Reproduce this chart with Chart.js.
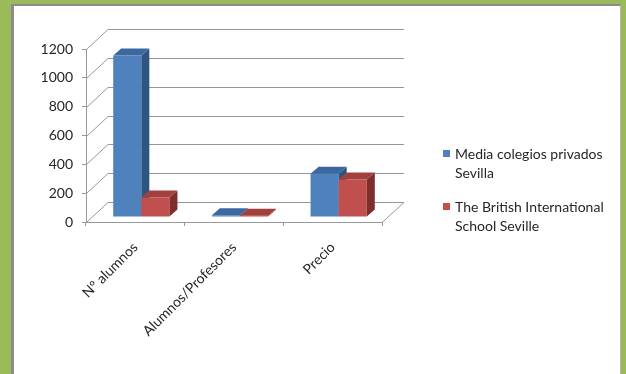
<!DOCTYPE html>
<html>
<head>
<meta charset="utf-8">
<script src="https://cdn.jsdelivr.net/npm/chart.js@4.4.1/dist/chart.umd.min.js"></script>
<style>
  html, body { margin: 0; padding: 0; width: 626px; height: 374px; overflow: hidden; background: #9bbb59; }
  #panel {
    position: absolute; left: 11px; top: 4px; width: 606px; height: 400px;
    background: #fff;
    border-left: 3px solid #8c8c8c;
    border-top: 2px solid #8c8c8c;
    border-right: 1px solid #b4b4b4;
  }
  #chart { position: absolute; left: 0; top: 0; }
</style>
</head>
<body>
<div id="panel"></div>
<canvas id="chart" width="626" height="374"></canvas>
<script>
// ===============================
// Data
// ===============================
const categories = ["Nº alumnos", "Alumnos/Profesores", "Precio"];
const mediaSevilla = [1120, 12, 300];
const britishSchool = [135, 9, 260];
const seriesNames = [
  ["Media colegios privados", "Sevilla"],
  ["The British International", "School Seville"],
];
const yMin = 0;
const yMax = 1200;
const yStep = 200;

// ===============================
// Look
// ===============================
const FONT = "Lato, 'Open Sans', sans-serif";
const TEXT = "#262626";
const GRID = "#979797";

const palette = [
  { front: "#4f81bd", top: "#3c68a0", side: "#2e5481" },
  { front: "#c0504d", top: "#a3403d", side: "#7e2f2d" },
];

// depth of the floor / back wall, and where the bars sit inside it
const wall = { dx: 22, dy: -20 };
const barPlane = { dx: 6, dy: -5 };
const barDepth = { dx: 8, dy: -7 };

// ===============================
// 3D box plugin
// ===============================
function line(ctx, x0, y0, x1, y1) {
  ctx.beginPath();
  ctx.moveTo(x0, y0);
  ctx.lineTo(x1, y1);
  ctx.stroke();
}

function drawBar(ctx, x0, x1, yTop, yBase, c) {
  const w = x1 - x0;

  ctx.fillStyle = c.front;
  ctx.fillRect(x0, yTop, w, yBase - yTop);

  ctx.fillStyle = c.side;
  ctx.beginPath();
  ctx.moveTo(x1, yBase);
  ctx.lineTo(x1, yTop);
  ctx.lineTo(x1 + barDepth.dx, yTop + barDepth.dy);
  ctx.lineTo(x1 + barDepth.dx, yBase + barDepth.dy);
  ctx.closePath();
  ctx.fill();

  ctx.fillStyle = c.top;
  ctx.beginPath();
  ctx.moveTo(x0, yTop);
  ctx.lineTo(x1, yTop);
  ctx.lineTo(x1 + barDepth.dx, yTop + barDepth.dy);
  ctx.lineTo(x0 + barDepth.dx, yTop + barDepth.dy);
  ctx.closePath();
  ctx.fill();
}

const box3d = {
  id: "box3d",
  beforeDatasetsDraw(chart) {
    const { ctx, chartArea, scales } = chart;
    const y = scales.y;
    const left = chartArea.left;
    const right = chartArea.right;
    const bottom = y.getPixelForValue(0);

    ctx.save();
    ctx.strokeStyle = GRID;
    ctx.lineWidth = 1;

    // back wall gridlines + side wall diagonals
    y.ticks.forEach((t) => {
      const py = Math.round(y.getPixelForValue(t.value)) + 0.5;
      line(ctx, left + 0.5, py, left + wall.dx, py + wall.dy);
      line(ctx, left + wall.dx, py + wall.dy, right + wall.dx, py + wall.dy);
    });

    // floor right edge
    line(ctx, right, Math.round(bottom) + 0.5, right + wall.dx, Math.round(bottom) + 0.5 + wall.dy);

    // bars
    chart.data.datasets.forEach((ds, di) => {
      const meta = chart.getDatasetMeta(di);
      meta.data.forEach((bar) => {
        const x0 = bar.x - bar.width / 2 + barPlane.dx;
        const x1 = bar.x + bar.width / 2 + barPlane.dx;
        drawBar(ctx, x0, x1, bar.y + barPlane.dy, bar.base + barPlane.dy, palette[di]);
      });
    });

    ctx.restore();
    return false;
  },
  afterDraw(chart) {
    const { ctx } = chart;
    ctx.save();
    ctx.font = "14px " + FONT;
    ctx.fillStyle = TEXT;
    ctx.textBaseline = "middle";
    const startY = 154;
    const entryGap = 53;
    const lineGap = 19;
    seriesNames.forEach((lines, i) => {
      const top = startY + i * entryGap;
      ctx.fillStyle = palette[i].front;
      ctx.fillRect(443, top - 4, 7, 7);
      ctx.fillStyle = TEXT;
      lines.forEach((txt, k) => ctx.fillText(txt, 455, top + k * lineGap));
    });
    ctx.restore();
  },
};

// ===============================
// Chart
// ===============================
const ctx = document.getElementById("chart").getContext("2d");

new Chart(ctx, {
  type: "bar",
  data: {
    labels: categories,
    datasets: [
      { label: seriesNames[0].join(" "), data: mediaSevilla, backgroundColor: palette[0].front },
      { label: seriesNames[1].join(" "), data: britishSchool, backgroundColor: palette[1].front },
    ],
  },
  options: {
    responsive: false,
    animation: false,
    devicePixelRatio: 1,
    categoryPercentage: 0.57,
    barPercentage: 1.0,
    layout: { padding: { left: 0, top: 49, right: 244, bottom: 0 } },
    plugins: {
      legend: { display: false },
      tooltip: { enabled: false },
    },
    scales: {
      x: {
        afterFit: (s) => { s.height = 152; },
        grid: { display: true, drawOnChartArea: false, drawTicks: true, tickLength: 4, color: GRID, offset: true },
        border: { display: true, color: GRID },
        ticks: {
          minRotation: 45,
          maxRotation: 45,
          padding: 13,
          color: TEXT,
          font: { family: FONT, size: 14 },
        },
      },
      y: {
        min: yMin,
        max: yMax,
        afterFit: (s) => { s.width = 86; },
        grid: { display: true, drawOnChartArea: false, drawTicks: true, tickLength: 4, color: GRID },
        border: { display: true, color: GRID },
        ticks: {
          stepSize: yStep,
          padding: 9,
          color: TEXT,
          font: { family: FONT, size: 14 },
          callback: (v) => String(v),
        },
      },
    },
  },
  plugins: [box3d],
});
</script>
</body>
</html>
